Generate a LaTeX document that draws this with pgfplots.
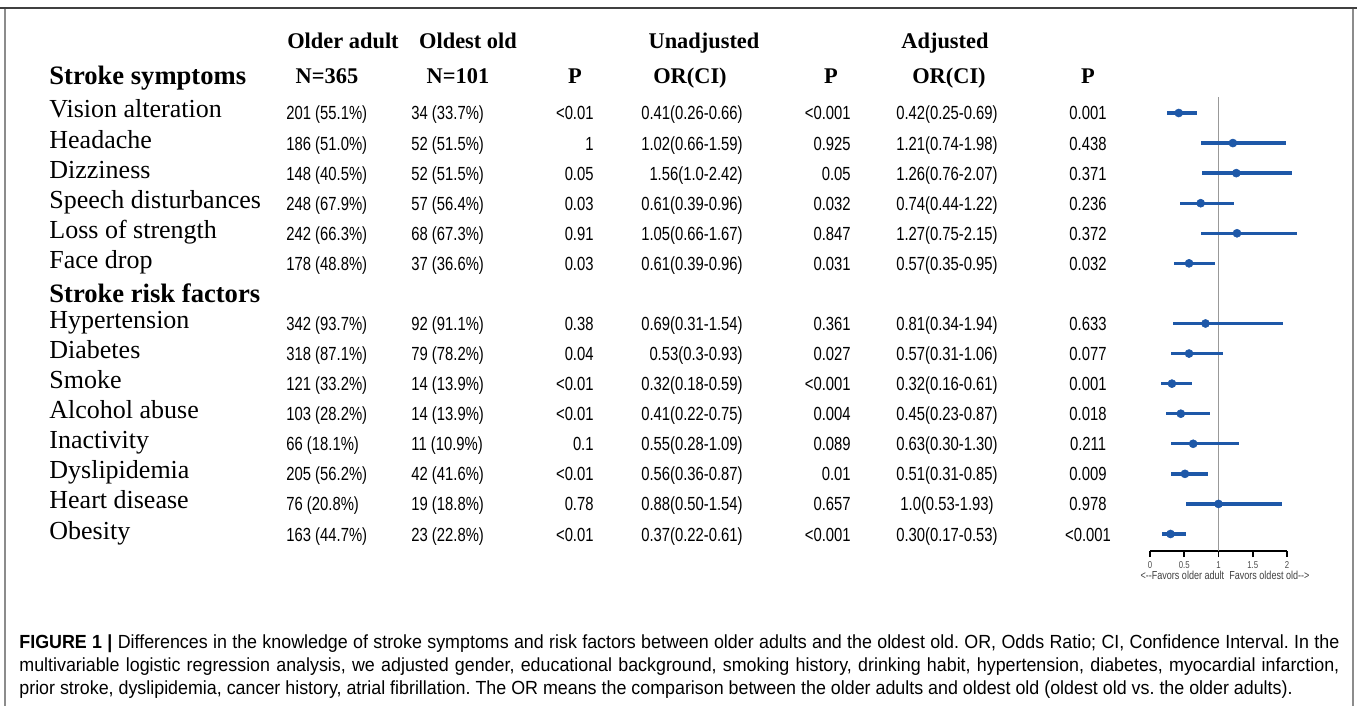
\documentclass[border=0pt]{standalone}
\usepackage{pgfplots}
\pgfplotsset{compat=1.18}
\usepackage{pgfplotstable}
\usepackage{fontspec}
\setmainfont{Liberation Serif}
\newfontfamily\dat[FakeStretch=0.78]{Liberation Sans}
\newfontfamily\capf[FakeStretch=0.94]{Liberation Sans}
\definecolor{fblue}{RGB}{30,88,168}
\newcommand\namef{\fontsize{13}{15}\selectfont}
\newcommand\hdf{\bfseries\fontsize{11.2}{13}\selectfont}
\newcommand\secf{\bfseries\fontsize{13.3}{15}\selectfont}
\newcommand\datf{\dat\fontsize{9.5}{11}\selectfont}
\newcommand\capfs{\capf\fontsize{9.5}{11}\selectfont}
\frenchspacing

\pgfplotstableread{
row or lo hi
1 0.42 0.25 0.69
2 1.21 0.74 1.98
3 1.26 0.76 2.07
4 0.74 0.44 1.22
5 1.27 0.75 2.15
6 0.57 0.35 0.95
8 0.81 0.34 1.94
9 0.57 0.31 1.06
10 0.32 0.16 0.61
11 0.45 0.23 0.87
12 0.63 0.30 1.30
13 0.51 0.31 0.85
14 1.0 0.53 1.93
15 0.30 0.17 0.53
}\forest

\newcommand\trow[9]{%
 \node[anchor=base west,font=\namef,inner sep=0] at (49,#1+5) {#2};
 \node[anchor=base west,font=\datf,inner sep=0] at (286,#1+7) {#3};
 \node[anchor=base west,font=\datf,inner sep=0] at (411,#1+7) {#4};
 \node[anchor=base east,font=\datf,inner sep=0] at (594,#1+7) {#5};
 \node[anchor=base east,font=\datf,inner sep=0] at (743,#1+7) {#6};
 \node[anchor=base east,font=\datf,inner sep=0] at (851,#1+7) {#7};
 \node[anchor=base,font=\datf,inner sep=0] at (947,#1+7) {#8};
 \node[anchor=base,font=\datf,inner sep=0] at (1088,#1+7) {#9};
}

\begin{document}
\begin{tikzpicture}
\begin{scope}[x=0.5pt,y=-0.5pt]
\useasboundingbox (0,0) rectangle (1357,706);
\draw[line width=1.2pt, black!75] (0,8) -- (1357,8);
\draw[line width=0.6pt, black!45] (5,9) -- (5,706);
\draw[line width=0.6pt, black!45] (1353,9) -- (1353,706);
% headers
\node[anchor=base,font=\hdf,inner sep=0] at (343,49) {Older adult};
\node[anchor=base,font=\hdf,inner sep=0] at (468,49) {Oldest old};
\node[anchor=base,font=\hdf,inner sep=0] at (704,49) {Unadjusted};
\node[anchor=base,font=\hdf,inner sep=0] at (945,49) {Adjusted};
\node[anchor=base west,font=\secf,inner sep=0] at (49,85) {Stroke symptoms};
\node[anchor=base,font=\hdf,inner sep=0] at (327,84) {N=365};
\node[anchor=base,font=\hdf,inner sep=0] at (458,84) {N=101};
\node[anchor=base,font=\hdf,inner sep=0] at (575,84) {P};
\node[anchor=base,font=\hdf,inner sep=0] at (690,84) {OR(CI)};
\node[anchor=base,font=\hdf,inner sep=0] at (831,84) {P};
\node[anchor=base,font=\hdf,inner sep=0] at (949,84) {OR(CI)};
\node[anchor=base,font=\hdf,inner sep=0] at (1088,84) {P};
\node[anchor=base west,font=\secf,inner sep=0] at (49,302) {Stroke risk factors};
% rows
\trow{113}{Vision alteration}{201 (55.1\%)}{34 (33.7\%)}{<0.01}{0.41(0.26-0.66)}{<0.001}{0.42(0.25-0.69)}{0.001}
\trow{143.07}{Headache}{186 (51.0\%)}{52 (51.5\%)}{1}{1.02(0.66-1.59)}{0.925}{1.21(0.74-1.98)}{0.438}
\trow{173.14}{Dizziness}{148 (40.5\%)}{52 (51.5\%)}{0.05}{1.56(1.0-2.42)}{0.05}{1.26(0.76-2.07)}{0.371}
\trow{203.2}{Speech disturbances}{248 (67.9\%)}{57 (56.4\%)}{0.03}{0.61(0.39-0.96)}{0.032}{0.74(0.44-1.22)}{0.236}
\trow{233.3}{Loss of strength}{242 (66.3\%)}{68 (67.3\%)}{0.91}{1.05(0.66-1.67)}{0.847}{1.27(0.75-2.15)}{0.372}
\trow{263.4}{Face drop}{178 (48.8\%)}{37 (36.6\%)}{0.03}{0.61(0.39-0.96)}{0.031}{0.57(0.35-0.95)}{0.032}
\trow{323.5}{Hypertension}{342 (93.7\%)}{92 (91.1\%)}{0.38}{0.69(0.31-1.54)}{0.361}{0.81(0.34-1.94)}{0.633}
\trow{353.6}{Diabetes}{318 (87.1\%)}{79 (78.2\%)}{0.04}{0.53(0.3-0.93)}{0.027}{0.57(0.31-1.06)}{0.077}
\trow{383.6}{Smoke}{121 (33.2\%)}{14 (13.9\%)}{<0.01}{0.32(0.18-0.59)}{<0.001}{0.32(0.16-0.61)}{0.001}
\trow{413.7}{Alcohol abuse}{103 (28.2\%)}{14 (13.9\%)}{<0.01}{0.41(0.22-0.75)}{0.004}{0.45(0.23-0.87)}{0.018}
\trow{443.8}{Inactivity}{66 (18.1\%)}{11 (10.9\%)}{0.1}{0.55(0.28-1.09)}{0.089}{0.63(0.30-1.30)}{0.211}
\trow{473.8}{Dyslipidemia}{205 (56.2\%)}{42 (41.6\%)}{<0.01}{0.56(0.36-0.87)}{0.01}{0.51(0.31-0.85)}{0.009}
\trow{503.9}{Heart disease}{76 (20.8\%)}{19 (18.8\%)}{0.78}{0.88(0.50-1.54)}{0.657}{1.0(0.53-1.93)}{0.978}
\trow{534}{Obesity}{163 (44.7\%)}{23 (22.8\%)}{<0.01}{0.37(0.22-0.61)}{<0.001}{0.30(0.17-0.53)}{<0.001}
% caption
\node[anchor=base west,font=\capfs,inner sep=0] at (19,648) {\makebox[660pt][s]{\textbf{FIGURE 1 |} Differences in the knowledge of stroke symptoms and risk factors between older adults and the oldest old. OR, Odds Ratio; CI, Confidence Interval. In the}};
\node[anchor=base west,font=\capfs,inner sep=0] at (19,671) {\makebox[660pt][s]{multivariable logistic regression analysis, we adjusted gender, educational background, smoking history, drinking habit, hypertension, diabetes, myocardial infarction,}};
\node[anchor=base west,font=\capfs,inner sep=0] at (19,694) {prior stroke, dyslipidemia, cancer history, atrial fibrillation. The OR means the comparison between the older adults and oldest old (oldest old vs. the older adults).};
\end{scope}
\begin{axis}[
 at={(575pt,-275.5pt)}, anchor=south west,
 scale only axis, width=68.5pt, height=227pt,
 xmin=0, xmax=2, ymin=-15.566, ymax=-0.468,
 axis x line*=bottom, axis y line=none,
 xtick={0,0.5,1,1.5,2}, xticklabels={0,0.5,1,1.5,2},
 ytick=\empty,
 tick align=outside, major tick length=3pt,
 x axis line style={line width=1pt, black},
 xtick style={line width=0.9pt, black},
 xticklabel style={font=\dat\fontsize{5}{6}\selectfont, text=black!70, inner sep=1pt, yshift=-1pt},
 clip=false,
]
\addplot[black!40, line width=0.75pt] coordinates {(1,-0.468) (1,-15.566)};
\addplot[fblue, only marks, mark=*, mark size=2pt, mark options={fill=fblue, draw=fblue, line width=0.3pt},
  error bars/.cd, x dir=both, x explicit, error mark=none,
  error bar style={line width=1.7pt, fblue}]
  table[x=or, y expr=-\thisrow{row}, x error plus expr=\thisrow{hi}-\thisrow{or}, x error minus expr=\thisrow{or}-\thisrow{lo}] {\forest};
\node[font=\dat\fontsize{5.8}{6}\selectfont, text=black!75, inner sep=0] at (axis cs:1.095,-15.566) [yshift=-12pt] {<-{}-Favors older adult\ \ Favors oldest old-{}->};
\end{axis}
\end{tikzpicture}
\end{document}
